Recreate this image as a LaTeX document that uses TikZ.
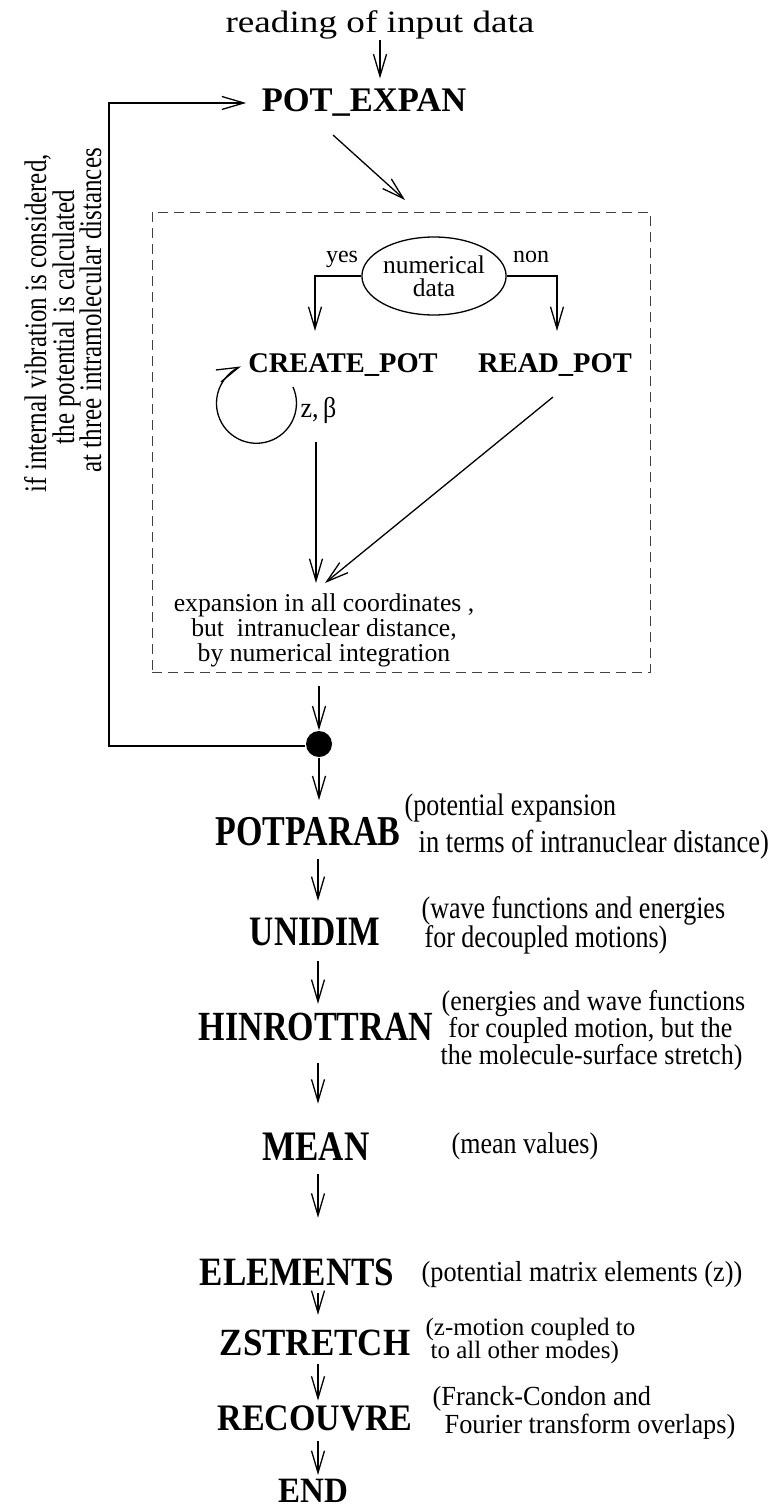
\documentclass[tikz,border=0pt]{standalone}
\usepackage{fontspec}
\setmainfont{Liberation Serif}
\usepackage{graphicx}
\usetikzlibrary{arrows.meta,shapes.geometric}
\newcommand{\fs}[1]{\fontsize{#1}{#1}\selectfont}
\newcommand{\ys}[2]{\scalebox{1}[#1]{#2}}
\begin{document}
\begin{tikzpicture}[x=1pt,y=-1pt,line width=1.3pt,
  arr/.style={-{Straight Barb[length=22pt,width=13pt]}},
  lbl/.style={font=\bfseries, inner sep=0pt, anchor=base},
  desc/.style={inner sep=0pt, anchor=base west},
  txt/.style={inner sep=0pt, anchor=base},
  vtxt/.style={rotate=90, anchor=base west, inner sep=0pt, font=\fs{25}}]
\useasboundingbox (0,0) rectangle (771,1509);

% top
\node[txt] (rd) at (380,33) {\fs{31}\scalebox{1.2}[1]{reading of input data}};
\node[lbl] (pe) at (364,112) {\fs{34.5}POT\_EXPAN};
\draw[arr, shorten >=10pt] (rd.south) -- (rd.south |- pe.north);

% dashed box
\node[draw=black!75, line width=1pt, dash pattern=on 10pt off 6pt,
      minimum width=498pt, minimum height=460pt, inner sep=0pt] (box) at (401,442) {};
\coordinate (d1) at (333,135);
\coordinate (d2) at (405,200);
\draw[arr] (d1) -- (d2);

% decision
\node[draw, ellipse, minimum width=132pt, minimum height=78pt, inner sep=0pt,
      align=center, font=\fontsize{25.5}{23}\selectfont] (nd) at (434,276) {numerical\\data};
\node[txt] (yes) at (342,262) {\fs{24}yes};
\node[txt] (non) at (531,262) {\fs{24}non};
\coordinate (yesend) at (315,331);
\coordinate (nonend) at (557,331);
\draw[arr] (nd.west) -| (yesend);
\draw[arr] (nd.east) -| (nonend);

\node[lbl] (cp) at (343,372) {\fs{28.5}CREATE\_POT};
\node[lbl] (rp) at (555,372) {\fs{28.5}READ\_POT};

% loop
\coordinate (lp) at (293,387);
\draw[arr] (lp) arc[start angle=-24, end angle=247, radius=40];
\node[desc] (zb) at (300,417) {\fs{26}\ys{1.1}{z,\,β}};

% expansion text
\node[inner sep=0pt, anchor=north, align=center, font=\fontsize{25.7}{25}\selectfont] (exp) at (324,593)
  {expansion in all coordinates ,\\ but\ \ intranuclear distance,\\ by numerical integration};
\coordinate (c1) at (316,442);
\coordinate (r1) at (553,397);
\coordinate (r2) at (325,583);
\draw[arr, shorten >=10pt] (c1) -- (c1 |- exp.north);
\draw[arr] (r1) -- (r2);

% junction
\node[circle, fill=black, minimum size=26pt, inner sep=0pt] (dot) at (319,744) {};
\coordinate (axis) at (318,0);
\draw[arr, shorten <=13pt] (box.south -| dot) -- (dot.north);
\coordinate (fb) at (109,746);
\draw[arr, shorten >=15pt] (dot.west |- fb) -- (fb) |- (pe.west);

% side text
\node[vtxt] (v1) at (46,493) {\ys{1.25}{if internal vibration is considered,}};
\node[vtxt] (v2) at (74,445) {\ys{1.25}{the potential is calculated}};
\node[vtxt] (v3) at (101,473) {\ys{1.25}{at three intramolecular distances}};

% chain
\node[lbl] (pp) at (308,845) {\fs{34}\ys{1.25}{POTPARAB}};
\node[lbl] (un) at (315,945) {\fs{33.5}\ys{1.25}{UNIDIM}};
\node[lbl] (hr) at (316,1040) {\fs{34}\ys{1.22}{HINROTTRAN}};
\node[lbl] (mn) at (316,1160) {\fs{35}\ys{1.2}{MEAN}};
\node[lbl] (el) at (297,1285) {\fs{35}\ys{1.15}{ELEMENTS}};
\node[lbl] (zs) at (315,1355) {\fs{35}\ys{1.1}{ZSTRETCH}};
\node[lbl] (rc) at (315,1430) {\fs{34}\ys{1.1}{RECOUVRE}};
\node[lbl] (en) at (313,1502) {\fs{33}\ys{1.08}{END}};

\draw[arr, shorten >=16pt] (dot.south) -- (dot.south |- pp.north);
\draw[arr, shorten <=13pt, shorten >=16pt] (pp.south -| axis) -- (un.north -| axis);
\draw[arr, shorten <=15pt, shorten >=8pt] (un.south -| axis) -- (hr.north -| axis);
\draw[arr, shorten <=22pt, shorten >=28pt] (hr.south -| axis) -- (mn.north -| axis);
\draw[arr, shorten <=13pt, shorten >=40pt] (mn.south -| axis) -- (el.north -| axis);
\draw[arr, shorten <=7pt, shorten >=14pt] (el.south -| axis) -- (zs.north -| axis);
\draw[arr, shorten <=8pt, shorten >=4pt] (zs.south -| axis) -- (rc.north -| axis);
\draw[arr, shorten <=10pt, shorten >=3pt] (rc.south -| axis) -- (en.north -| axis);

% descriptions
\node[desc] (p1) at (404,815) {\fs{26}\ys{1.2}{(potential expansion}};
\node[desc] (p2) at (418,852) {\fs{26.5}\ys{1.2}{in terms of intranuclear distance)}};
\node[desc] (u1) at (421,918) {\fs{26}\ys{1.2}{(wave functions and energies}};
\node[desc] (u2) at (424,947) {\fs{26}\ys{1.2}{for decoupled motions)}};
\node[desc] (h1) at (441,1010) {\fs{26}\ys{1.1}{(energies and wave functions}};
\node[desc] (h2) at (448,1037) {\fs{26}\ys{1.1}{for coupled motion, but the}};
\node[desc] (h3) at (440,1064) {\fs{26}\ys{1.1}{the molecule-surface stretch)}};
\node[desc] (m1) at (451,1153) {\fs{26}\ys{1.15}{(mean values)}};
\node[desc] (e1) at (421,1281) {\fs{26.3}\ys{1.1}{(potential matrix elements (z))}};
\node[desc] (z1) at (425,1335) {\fs{25}{(z-motion coupled to}};
\node[desc] (z2) at (430,1358) {\fs{25}{to all other modes)}};
\node[desc] (r1t) at (432,1405) {\fs{26.3}\ys{1.05}{(Franck-Condon and}};
\node[desc] (r2t) at (444,1433) {\fs{26.3}\ys{1.05}{Fourier transform overlaps)}};
\end{tikzpicture}
\end{document}
